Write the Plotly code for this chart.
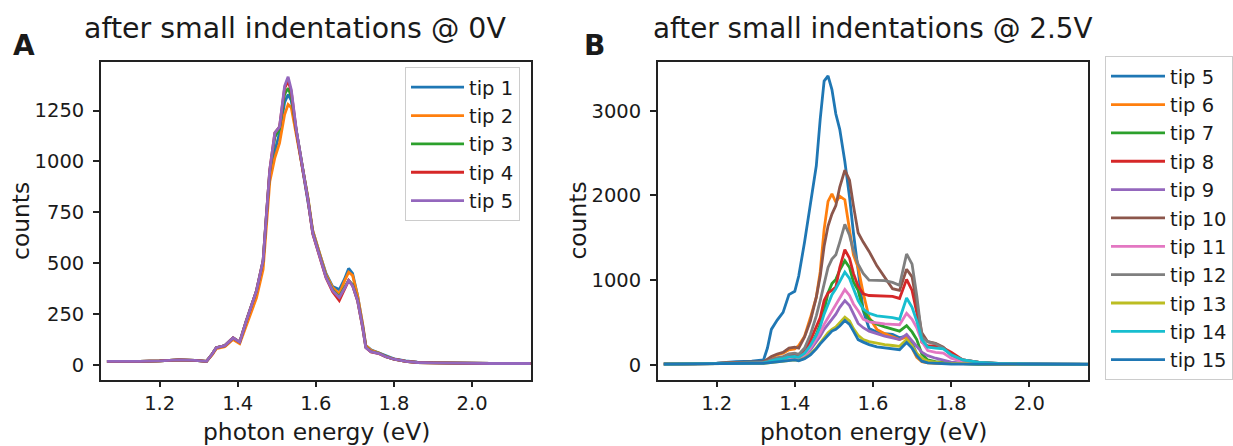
import plotly.graph_objects as go

# ---------------- Panel A data (after small indentations @ 0V) ----------------
energy_a = [1.065, 1.10, 1.15, 1.20, 1.25, 1.29, 1.32, 1.335, 1.345, 1.367, 1.388, 1.405,
            1.422, 1.448, 1.465, 1.473, 1.482, 1.495, 1.507, 1.52, 1.529, 1.537, 1.55, 1.567,
            1.58, 1.592, 1.61, 1.626, 1.643, 1.66, 1.673, 1.684, 1.694, 1.707, 1.72, 1.728,
            1.741, 1.762, 1.779, 1.80, 1.83, 1.86, 1.90, 1.95, 2.0, 2.05, 2.1, 2.15]

tip1_a = [18, 17, 18, 20, 25, 22, 18, 55, 85, 95, 130, 112, 215, 360, 505, 715, 940, 1050,
          1140, 1290, 1329, 1300, 1150, 965, 820, 660, 545, 450, 385, 370, 420, 474, 450, 340,
          195, 95, 75, 60, 45, 30, 20, 14, 11, 9, 8, 7, 7, 7]
tip2_a = [18, 17, 18, 20, 25, 22, 18, 50, 80, 90, 125, 105, 195, 330, 470, 680, 900, 1018,
          1090, 1230, 1280, 1265, 1130, 960, 820, 660, 545, 445, 380, 350, 410, 456, 440, 340,
          200, 95, 72, 58, 42, 28, 18, 12, 10, 8, 8, 7, 7, 7]
tip3_a = [18, 17, 18, 20, 25, 22, 18, 55, 85, 95, 133, 112, 217, 365, 512, 725, 950, 1120,
          1160, 1330, 1360, 1320, 1150, 960, 815, 650, 535, 435, 368, 335, 380, 415, 395, 318,
          186, 88, 66, 57, 41, 28, 18, 12, 10, 8, 8, 7, 7, 7]
tip4_a = [18, 17, 18, 20, 25, 22, 18, 55, 85, 95, 133, 112, 217, 365, 514, 728, 958, 1140,
          1170, 1360, 1395, 1345, 1150, 955, 808, 645, 528, 428, 360, 316, 370, 415, 390, 314,
          182, 85, 64, 55, 40, 28, 18, 12, 10, 8, 8, 7, 7, 7]
tip5_a = [18, 17, 18, 20, 25, 22, 18, 55, 85, 95, 133, 112, 217, 365, 514, 728, 958, 1140,
          1170, 1370, 1416, 1353, 1156, 958, 810, 647, 530, 431, 365, 332, 374, 415, 390, 316,
          184, 85, 65, 56, 40, 28, 18, 12, 10, 8, 8, 7, 7, 7]

labels_a = ["tip 1", "tip 2", "tip 3", "tip 4", "tip 5"]
series_a = [tip1_a, tip2_a, tip3_a, tip4_a, tip5_a]
colors_a = ["#1f77b4", "#ff7f0e", "#2ca02c", "#d62728", "#9467bd"]

# ---------------- Panel B data (after small indentations @ 2.5V) ----------------
energy_b = [1.065, 1.10, 1.15, 1.20, 1.25, 1.29, 1.32, 1.33, 1.34, 1.355, 1.37, 1.385, 1.40,
            1.41, 1.425, 1.44, 1.455, 1.465, 1.475, 1.485, 1.495, 1.505, 1.515, 1.528, 1.54,
            1.55, 1.562, 1.575, 1.59, 1.61, 1.63, 1.65, 1.668, 1.686, 1.70, 1.712, 1.725, 1.74,
            1.76, 1.78, 1.80, 1.83, 1.87, 1.92, 2.0, 2.07, 2.15]

tip5_b = [15, 15, 18, 22, 40, 45, 60, 200, 420, 530, 620, 830, 870, 1050, 1450, 1900, 2350,
          2900, 3350, 3410, 3250, 2960, 2780, 2400, 1980, 1560, 1100, 640, 430, 390, 370, 360,
          320, 345, 260, 130, 50, 30, 25, 20, 18, 15, 12, 10, 10, 8, 8]
tip6_b = [12, 12, 15, 18, 28, 30, 35, 60, 90, 120, 140, 180, 190, 230, 340, 560, 800, 1100,
          1600, 1930, 2020, 1920, 1990, 1950, 1620, 1300, 1150, 850, 560, 420, 370, 330, 300,
          330, 200, 90, 40, 25, 20, 18, 15, 12, 10, 10, 8, 8, 8]
tip7_b = [10, 10, 12, 15, 20, 22, 25, 35, 50, 65, 75, 95, 100, 90, 140, 230, 360, 480, 640,
          850, 960, 1010, 1120, 1230, 1150, 980, 880, 650, 540, 480, 450, 420, 400, 465, 390,
          300, 130, 60, 40, 30, 22, 15, 12, 10, 8, 8, 8]
tip8_b = [10, 10, 12, 15, 22, 25, 28, 40, 60, 80, 90, 120, 125, 110, 170, 290, 440, 560, 760,
          850, 880, 920, 1150, 1360, 1260, 1080, 930, 840, 820, 818, 815, 810, 785, 1010, 880,
          620, 270, 225, 225, 200, 150, 60, 30, 15, 10, 8, 8]
tip9_b = [10, 10, 12, 15, 18, 20, 22, 30, 40, 50, 60, 75, 80, 70, 110, 180, 270, 340, 420,
          480, 540, 600, 680, 760, 700, 600, 490, 440, 400, 370, 340, 320, 300, 360, 290, 220,
          150, 110, 80, 55, 35, 22, 15, 12, 10, 8, 8]
tip10_b = [12, 12, 15, 20, 30, 35, 40, 70, 100, 130, 150, 200, 210, 200, 330, 520, 800, 1050,
           1400, 1640, 1780, 1880, 2100, 2300, 2180, 1880, 1560, 1450, 1340, 1170, 1040, 900,
           880, 1130, 1040, 740, 380, 275, 255, 210, 120, 60, 35, 20, 12, 10, 10]
tip11_b = [10, 10, 12, 15, 18, 20, 22, 30, 45, 55, 65, 85, 90, 80, 120, 200, 300, 380, 480,
           560, 640, 720, 800, 890, 820, 720, 640, 540, 510, 495, 485, 480, 475, 610, 540, 440,
           280, 170, 150, 140, 80, 40, 22, 15, 10, 8, 8]
tip12_b = [12, 12, 14, 18, 25, 28, 30, 45, 65, 85, 100, 130, 140, 125, 200, 360, 580, 760,
           960, 1150, 1250, 1300, 1450, 1660, 1530, 1350, 1190, 1080, 1000, 995, 995, 975, 940,
           1310, 1190, 820, 330, 275, 250, 200, 120, 60, 35, 20, 12, 10, 10]
tip13_b = [10, 10, 12, 14, 16, 18, 20, 25, 35, 40, 45, 55, 60, 55, 80, 130, 200, 260, 320,
           380, 420, 450, 500, 565, 520, 430, 350, 300, 275, 255, 240, 230, 220, 300, 230, 140,
           80, 45, 30, 22, 18, 14, 12, 10, 8, 8, 8]
tip14_b = [10, 10, 12, 15, 20, 22, 25, 35, 50, 65, 75, 95, 100, 90, 140, 230, 350, 450, 600,
           720, 830, 900, 980, 1095, 1020, 900, 760, 660, 610, 580, 570, 560, 540, 790, 680,
           520, 300, 210, 200, 190, 120, 60, 30, 18, 12, 10, 10]
tip15_b = [10, 10, 12, 14, 16, 18, 20, 25, 30, 38, 45, 55, 60, 50, 75, 120, 190, 250, 300,
           360, 400, 420, 460, 525, 480, 400, 300, 270, 240, 215, 200, 190, 180, 265, 200, 110,
           45, 25, 18, 15, 12, 10, 10, 8, 8, 8, 8]

labels_b = ["tip 5", "tip 6", "tip 7", "tip 8", "tip 9", "tip 10", "tip 11", "tip 12",
            "tip 13", "tip 14", "tip 15"]
series_b = [tip5_b, tip6_b, tip7_b, tip8_b, tip9_b, tip10_b, tip11_b, tip12_b, tip13_b,
            tip14_b, tip15_b]
colors_b = ["#1f77b4", "#ff7f0e", "#2ca02c", "#d62728", "#9467bd", "#8c564b", "#e377c2",
            "#7f7f7f", "#bcbd22", "#17becf", "#1f77b4"]

xticks = [1.2, 1.4, 1.6, 1.8, 2.0]
xticklabels = ["1.2", "1.4", "1.6", "1.8", "2.0"]
yticks_a = [0, 250, 500, 750, 1000, 1250]
yticks_b = [0, 1000, 2000, 3000]

W, H = 1233, 446
FONT = "DejaVu Sans"
TXT = "#1a1a1a"
LW = 2.8

fig = go.Figure()
for lab, ys, col in zip(labels_a, series_a, colors_a):
    fig.add_trace(go.Scatter(x=energy_a, y=ys, mode="lines", name=lab,
                             line=dict(color=col, width=LW), xaxis="x", yaxis="y",
                             legend="legend"))
for lab, ys, col in zip(labels_b, series_b, colors_b):
    fig.add_trace(go.Scatter(x=energy_b, y=ys, mode="lines", name=lab,
                             line=dict(color=col, width=LW), xaxis="x2", yaxis="y2",
                             legend="legend2"))

def px_x(p):
    return p / W

def px_y(p):
    return 1 - p / H

axis_common = dict(showline=True, mirror=True, linecolor="#222222", linewidth=1.6,
                   ticks="outside", tickwidth=1.6, tickcolor="#222222",
                   showgrid=False, zeroline=False,
                   tickfont=dict(family=FONT, size=19.5, color=TXT))

ydom = [px_y(380), px_y(61.7)]
fig.update_layout(
    width=W, height=H, margin=dict(l=0, r=0, t=0, b=0),
    paper_bgcolor="white", plot_bgcolor="white",
    xaxis=dict(domain=[px_x(101.7), px_x(532.7)], range=[1.051, 2.152], anchor="y",
               tickvals=xticks, ticktext=xticklabels, ticklen=5, **axis_common),
    yaxis=dict(domain=ydom, range=[-74, 1490], anchor="x", tickvals=yticks_a, ticklen=6.5,
               ticklabelstandoff=5, **axis_common),
    xaxis2=dict(domain=[px_x(660), px_x(1091)], range=[1.051, 2.151], anchor="y2",
                tickvals=xticks, ticktext=xticklabels, ticklen=5, **axis_common),
    yaxis2=dict(domain=ydom, range=[-177, 3578], anchor="x2", tickvals=yticks_b, ticklen=6.5,
                ticklabelstandoff=5, **axis_common),
    legend=dict(x=px_x(406), y=px_y(67), xanchor="left", yanchor="top", itemwidth=53,
                bgcolor="rgba(255,255,255,0.8)", bordercolor="#cccccc", borderwidth=1,
                font=dict(family=FONT, size=19.5, color=TXT)),
    legend2=dict(x=px_x(1108), y=px_y(56), xanchor="left", yanchor="top", itemwidth=54,
                 bgcolor="rgba(255,255,255,0.8)", bordercolor="#cccccc", borderwidth=1,
                 font=dict(family=FONT, size=19.5, color=TXT)),
    showlegend=True,
)

ann = [
    dict(text="after small indentations @ 0V", x=px_x(296), y=px_y(29), size=28.4, bold=False),
    dict(text="after small indentations @ 2.5V", x=px_x(875.5), y=px_y(29), size=27.8, bold=False),
    dict(text="A", x=px_x(24), y=px_y(46), size=28, bold=True),
    dict(text="B", x=px_x(596), y=px_y(46), size=28, bold=True),
    dict(text="photon energy (eV)", x=px_x(317), y=px_y(432), size=23.4, bold=False),
    dict(text="photon energy (eV)", x=px_x(875.5), y=px_y(432), size=23.4, bold=False),
]
for a in ann:
    t = "<b>%s</b>" % a["text"] if a["bold"] else a["text"]
    fig.add_annotation(text=t, x=a["x"], y=a["y"], xref="paper", yref="paper",
                       xanchor="center", yanchor="middle", showarrow=False,
                       font=dict(family=FONT, size=a["size"], color=TXT))
for xc in (21, 579):
    fig.add_annotation(text="counts", x=px_x(xc), y=px_y(221), xref="paper", yref="paper",
                       xanchor="center", yanchor="middle", showarrow=False, textangle=-90,
                       font=dict(family=FONT, size=23.4, color=TXT))

fig.write_html("out.html")
